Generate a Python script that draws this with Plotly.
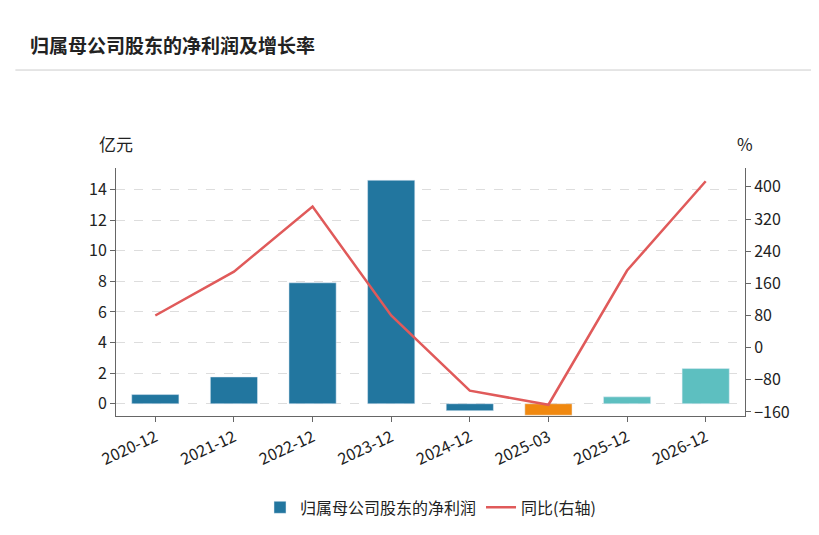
import plotly.graph_objects as go

periods = ["2020-12", "2021-12", "2022-12", "2023-12", "2024-12", "2025-03", "2025-12", "2026-12"]
profit = [0.6, 1.75, 7.9, 14.6, -0.45, -0.75, 0.45, 2.3]
yoy = [80, 189, 351, 80, -107, -142, 192, 414]
bar_colors = ["#22769f"] * 5 + ["#f0880f"] + ["#5dbfc0"] * 2

fig = go.Figure()
fig.add_trace(go.Bar(x=periods, y=profit, name="归属母公司股东的净利润",
                     marker=dict(color=bar_colors), width=0.6))
fig.add_trace(go.Scatter(x=periods, y=yoy, name="同比(右轴)", yaxis="y2", mode="lines",
                         line=dict(color="#e05a5a", width=2.5)))

axis_common = dict(showline=True, linecolor="#666", ticks="outside", tickcolor="#666",
                   tickfont=dict(size=16, color="#222"), zeroline=False, automargin=False)
fig.update_layout(
    width=819, height=535, paper_bgcolor="white", plot_bgcolor="white",
    font=dict(family="Noto Sans CJK SC", color="#222"),
    margin=dict(l=108, r=82, t=160, b=127),
    xaxis=dict(axis_common, type="category", tickangle=-25, showgrid=False),
    yaxis=dict(axis_common, range=[-0.8, 15.4], tickvals=[0, 2, 4, 6, 8, 10, 12, 14],
               showgrid=True, gridcolor="#ddd", griddash="dash"),
    yaxis2=dict(axis_common, overlaying="y", side="right", range=[-170, 447],
                tickvals=[-160, -80, 0, 80, 160, 240, 320, 400], showgrid=False),
    legend=dict(orientation="h", x=0.5, xanchor="center", y=-0.3, yanchor="top",
                font=dict(size=16)),
    showlegend=True,
    shapes=[
        dict(type="rect", xref="paper", yref="paper", x0=-0.2, x1=1.2, y0=1.645, y1=1.7,
             line=dict(width=0), fillcolor="#e8e8e8", layer="below"),
        dict(type="line", xref="paper", yref="paper", x0=-0.16, x1=1.13, y0=1.395, y1=1.395,
             line=dict(color="#ccc", width=1)),
    ],
    annotations=[
        dict(text="<b>归属母公司股东的净利润及增长率</b>", xref="paper", yref="paper",
             x=-0.14, y=1.5, xanchor="left", yanchor="middle", showarrow=False,
             font=dict(size=19)),
        dict(text="亿元", xref="paper", yref="paper", x=0, y=1.1, xanchor="center",
             yanchor="middle", showarrow=False, font=dict(size=17)),
        dict(text="%", xref="paper", yref="paper", x=1, y=1.1, xanchor="center",
             yanchor="middle", showarrow=False, font=dict(size=17)),
    ],
)
fig.write_html("out.html")
